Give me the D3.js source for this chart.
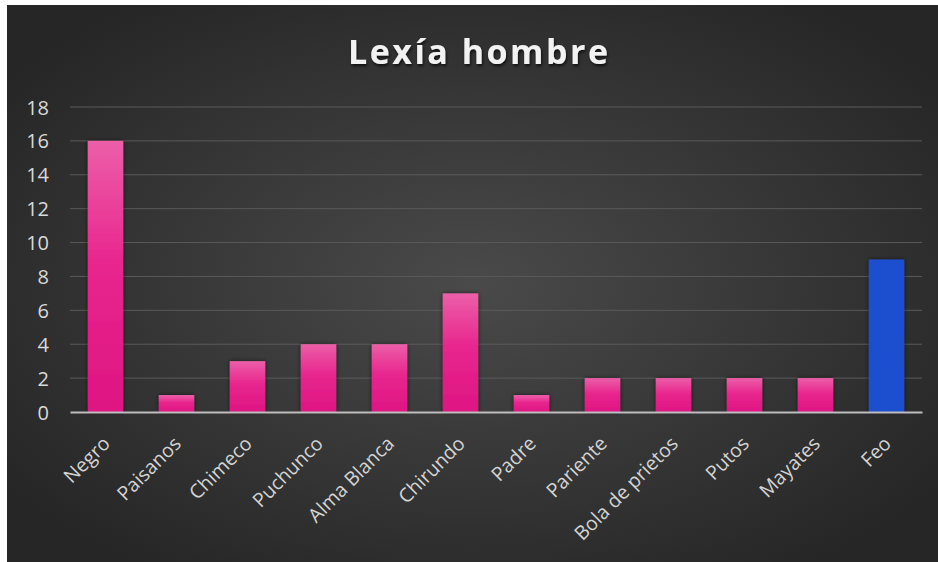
<!DOCTYPE html>
<html>
<head>
<meta charset="utf-8">
<script src="https://cdn.jsdelivr.net/npm/d3@7"></script>
<style>
  html, body { margin: 0; padding: 0; background: #ffffff; }
  svg { display: block; }
</style>
</head>
<body>
<svg id="chart" width="938" height="562"></svg>
<script>
// Word counts for "Lexía hombre"
const categories = ["Negro", "Paisanos", "Chimeco", "Puchunco", "Alma Blanca", "Chirundo",
                    "Padre", "Pariente", "Bola de prietos", "Putos", "Mayates", "Feo"];
const counts = [16, 1, 3, 4, 4, 7, 1, 2, 2, 2, 2, 9];
const highlighted = ["Feo"];
const yTicks = [0, 2, 4, 6, 8, 10, 12, 14, 16, 18];
const titleText = "Lexía hombre";

const W = 938, H = 562;
const margin = { left: 70, right: 16, top: 107, bottom: 150 };

const svg = d3.select("#chart");
const defs = svg.append("defs");

// Dark radial background
const bg = defs.append("radialGradient").attr("id", "bg")
  .attr("cx", "50%").attr("cy", "50%").attr("r", "62%");
bg.append("stop").attr("offset", "0%").attr("stop-color", "#4a4a4a");
bg.append("stop").attr("offset", "100%").attr("stop-color", "#262626");

// Pink bar fill
const pink = defs.append("linearGradient").attr("id", "pink")
  .attr("x1", 0).attr("y1", 0).attr("x2", 0).attr("y2", 1);
pink.append("stop").attr("offset", "0%").attr("stop-color", "#ec5fa8");
pink.append("stop").attr("offset", "45%").attr("stop-color", "#e8268e");
pink.append("stop").attr("offset", "100%").attr("stop-color", "#de1582");

const shadow = defs.append("filter").attr("id", "shadow")
  .attr("x", "-30%").attr("y", "-30%").attr("width", "160%").attr("height", "160%");
shadow.append("feDropShadow").attr("dx", 0).attr("dy", 0).attr("stdDeviation", 2)
  .attr("flood-color", "#000").attr("flood-opacity", 0.6);

const tshadow = defs.append("filter").attr("id", "tshadow")
  .attr("x", "-10%").attr("y", "-30%").attr("width", "120%").attr("height", "160%");
tshadow.append("feDropShadow").attr("dx", 1).attr("dy", 2).attr("stdDeviation", 1.5)
  .attr("flood-color", "#000").attr("flood-opacity", 0.7);

svg.append("rect").attr("x", 7).attr("y", 5).attr("width", W - 7).attr("height", H - 5)
  .attr("fill", "url(#bg)");

const x = d3.scaleBand().domain(categories)
  .range([margin.left, W - margin.right]).paddingInner(0.5).paddingOuter(0.25);
const y = d3.scaleLinear().domain([0, 18]).range([H - margin.bottom, margin.top]);

// Gridlines
svg.append("g").selectAll("line").data(yTicks.filter(d => d > 0)).join("line")
  .attr("x1", margin.left).attr("x2", W - margin.right)
  .attr("y1", d => y(d)).attr("y2", d => y(d))
  .attr("stroke", "#5a5a5a").attr("stroke-width", 1);

// Y axis labels
const yAxis = svg.append("g").attr("transform", `translate(${margin.left - 21},0)`)
  .call(d3.axisLeft(y).tickValues(yTicks).tickSize(0).tickPadding(0));
yAxis.select(".domain").remove();
yAxis.selectAll("text")
  .attr("fill", "#d9d9d9").attr("font-family", "'Open Sans', sans-serif")
  .style("font-size", "20px")
  .attr("dy", "0.35em");

// Bars
svg.append("g").selectAll("rect").data(categories).join("rect")
  .attr("x", d => x(d)).attr("width", x.bandwidth())
  .attr("y", (d, i) => y(counts[i]))
  .attr("height", (d, i) => y(0) - y(counts[i]))
  .attr("fill", d => highlighted.includes(d) ? "#1e4fd0" : "url(#pink)")
  .attr("filter", "url(#shadow)");

// X axis
const xAxis = svg.append("g").attr("transform", `translate(0,${y(0)})`)
  .call(d3.axisBottom(x).tickSize(0).tickSizeOuter(0).tickPadding(0));
xAxis.select(".domain").attr("stroke", "#bdbdbd").attr("stroke-width", 2);
xAxis.selectAll("text")
  .attr("fill", "#d4d4d4").attr("font-family", "'Open Sans', sans-serif")
  .style("font-size", "19.5px")
  .attr("text-anchor", "end")
  .attr("transform", "translate(1,28) rotate(-45)")
  .attr("dy", "0.35em");

// Title
svg.append("text").attr("x", 478).attr("y", 64)
  .attr("text-anchor", "middle")
  .attr("fill", "#f2f2f2").attr("font-family", "'Open Sans', sans-serif")
  .attr("font-weight", "bold").style("font-size", "34px")
  .attr("textLength", 260).attr("lengthAdjust", "spacing")
  .attr("filter", "url(#tshadow)")
  .text(titleText);
</script>
</body>
</html>
